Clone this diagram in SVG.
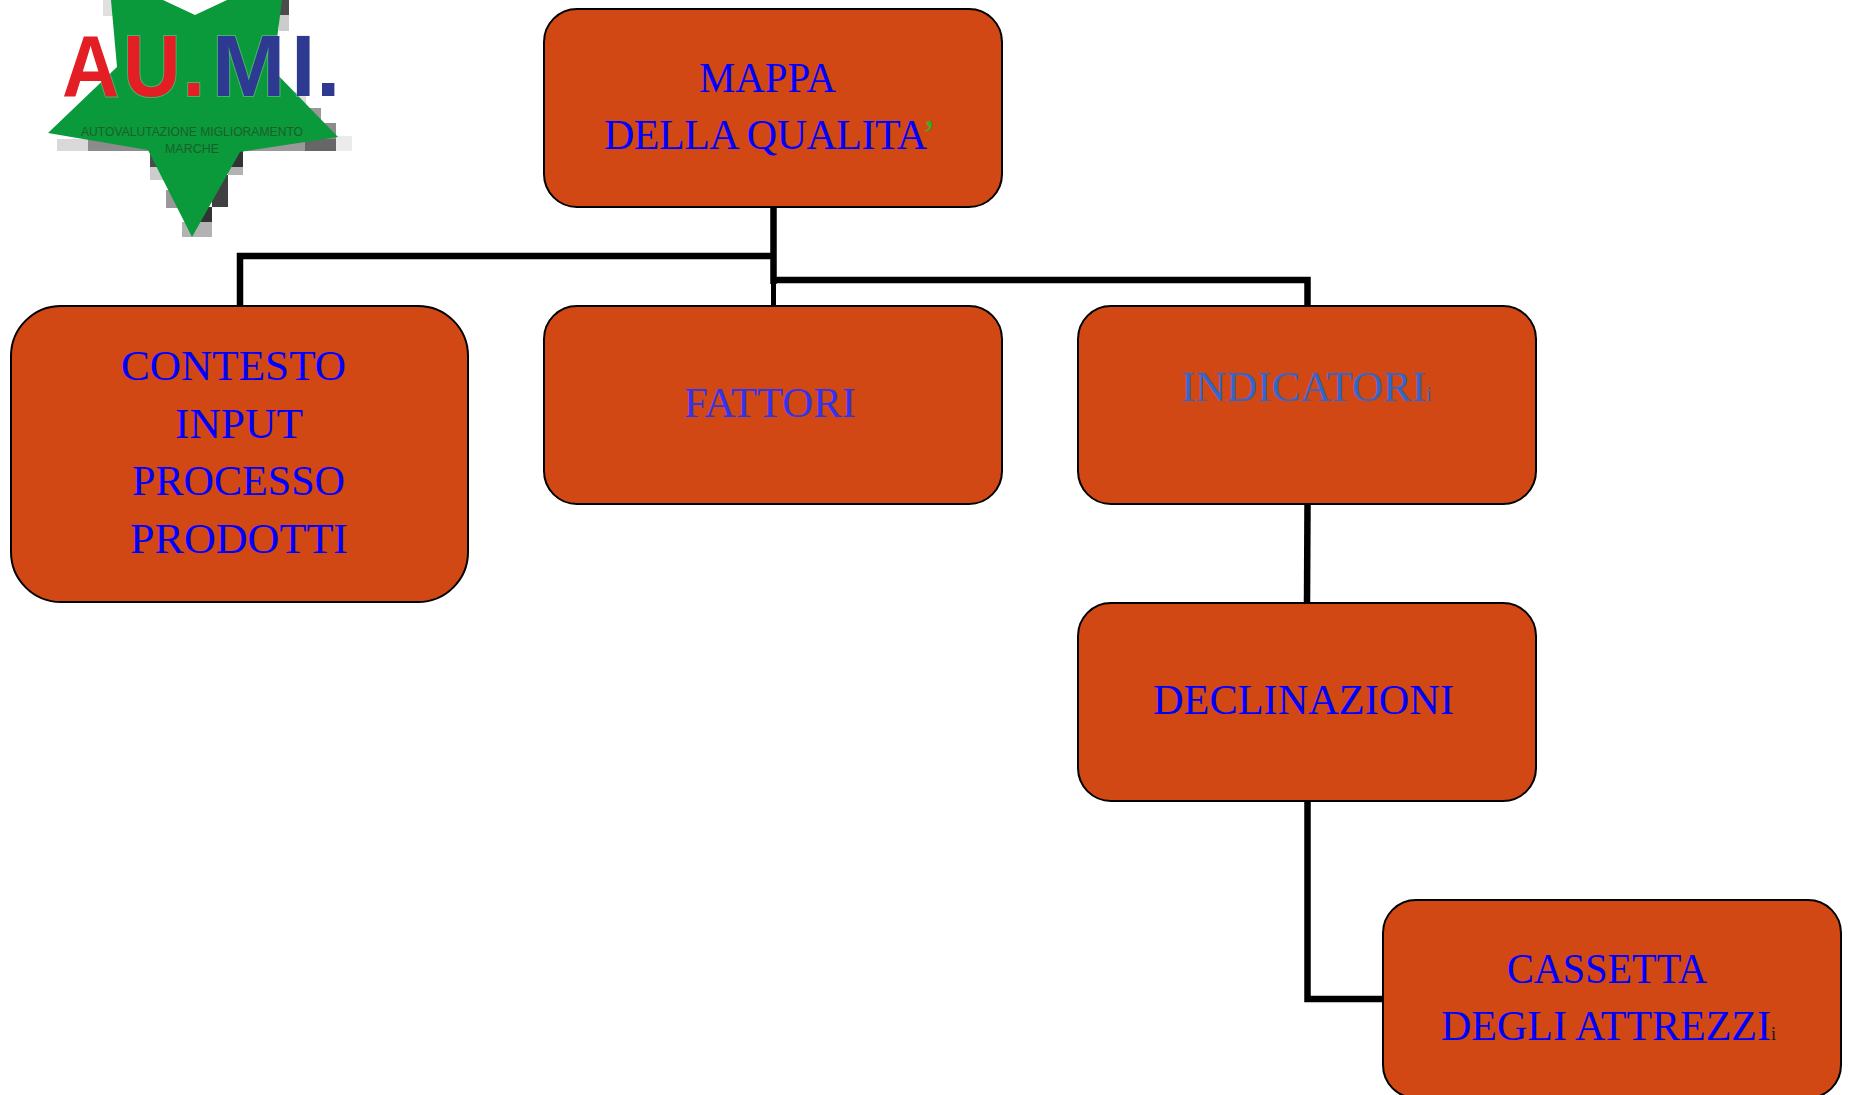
<svg xmlns="http://www.w3.org/2000/svg" width="1849" height="1095" viewBox="0 0 1849 1095">
<style>
.box{fill:#d14815;stroke:#000;stroke-width:2}
.t{font-family:"Liberation Serif","Times New Roman",serif;font-size:42px;fill:#0000ff}
.c{fill:none;stroke:#000;stroke-width:6.500}
.logo{font-family:"Liberation Sans",Arial,sans-serif;font-weight:bold;font-size:88px;stroke:#fff;stroke-opacity:.25;stroke-width:2px;paint-order:stroke}
.sub{font-family:"Liberation Sans",Arial,sans-serif;font-size:12.5px;fill:#1c5e2a}
</style>
<rect width="1849" height="1095" fill="#fff"/>
<g id="logo">
<g fill="#000">
<rect x="103" y="0" width="10" height="16" opacity=".12"/>
<rect x="279" y="0" width="10" height="15" opacity=".7"/>
<rect x="279" y="15" width="10" height="16" opacity=".2"/>
<rect x="290" y="92" width="16" height="16" opacity=".15"/>
<rect x="305" y="108" width="16" height="15" opacity=".4"/>
<rect x="320" y="123" width="16" height="16" opacity=".45"/>
<rect x="57" y="139" width="31" height="12" opacity=".15"/>
<rect x="88" y="139" width="62" height="12" opacity=".45"/>
<rect x="240" y="139" width="65" height="12" opacity=".4"/>
<rect x="305" y="139" width="31" height="12" opacity=".6"/>
<rect x="336" y="136" width="16" height="15" opacity=".08"/>
<rect x="150" y="151" width="10" height="16" opacity=".7"/>
<rect x="150" y="167" width="16" height="13" opacity=".2"/>
<rect x="166" y="190" width="12" height="18" opacity=".4"/>
<rect x="182" y="222" width="30" height="15" opacity=".3"/>
<rect x="228" y="151" width="15" height="16" opacity=".8"/>
<rect x="228" y="167" width="15" height="8" opacity=".3"/>
<rect x="212" y="175" width="16" height="32" opacity=".75"/>
<rect x="197" y="207" width="15" height="15" opacity=".8"/>
</g>
<polygon points="111,0 163,0 195,15 227,0 282,0 273,70 338,137 240,152 192,237 148,150 48,133 117,67" fill="#0a9a3b"/>
<g transform="scale(.9 1)"><text class="logo" x="69 137 203" y="96" fill="#e31e24">AU.</text></g>
<text class="logo" x="212 291 316" y="96" fill="#2e3a92">MI.</text>
<text class="sub" x="81" y="136" textLength="222" lengthAdjust="spacingAndGlyphs">AUTOVALUTAZIONE MIGLIORAMENTO</text>
<text class="sub" x="192" y="153" text-anchor="middle">MARCHE</text>
</g>
<g id="connectors">
<path class="c" d="M773.500 206V284"/>
<path class="c" d="M773.500 256H240V305"/>
<path class="c" d="M773.500 280H1307.500V305"/>
<path class="c" d="M773.500 280V305" style="stroke-width:5"/>
<path class="c" d="M1307.500 504L1307 603"/>
<path class="c" d="M1307.500 801V999H1383"/>
</g>
<g id="mappa">
<rect class="box" x="544" y="9" width="458" height="198" rx="33"/>
<text class="t" x="699" y="92" textLength="137" lengthAdjust="spacingAndGlyphs">MAPPA</text>
<text class="t" x="604" y="149" style="letter-spacing:-.5px">DELLA QUALITA<tspan style="fill:#33b020">’</tspan></text>
</g>
<g id="contesto">
<rect class="box" x="11" y="306" width="457" height="296" rx="50"/>
<text class="t" x="121" y="380" textLength="225" lengthAdjust="spacingAndGlyphs">CONTESTO</text>
<text class="t" x="175" y="438" textLength="128" lengthAdjust="spacingAndGlyphs">INPUT</text>
<text class="t" x="132" y="495" textLength="213" lengthAdjust="spacingAndGlyphs">PROCESSO</text>
<text class="t" x="130" y="553" textLength="218" lengthAdjust="spacingAndGlyphs">PRODOTTI</text>
</g>
<g id="fattori">
<rect class="box" x="544" y="306" width="458" height="198" rx="33"/>
<text class="t" x="684" y="417" textLength="172" lengthAdjust="spacingAndGlyphs" style="fill:#3333ee">FATTORI</text>
</g>
<g id="indicatori">
<rect class="box" x="1078" y="306" width="458" height="198" rx="33"/>
<text class="t" x="1181" y="401" textLength="245" lengthAdjust="spacingAndGlyphs" style="fill:#3366cc">INDICATORI</text>
<text class="t" x="1426" y="401" style="fill:#3366cc;font-size:20px">i</text>
</g>
<g id="declinazioni">
<rect class="box" x="1078" y="603" width="458" height="198" rx="33"/>
<text class="t" x="1153" y="714" textLength="301" lengthAdjust="spacingAndGlyphs">DECLINAZIONI</text>
</g>
<g id="cassetta">
<rect class="box" x="1383" y="900" width="458" height="198" rx="33"/>
<text class="t" x="1507" y="983" textLength="200" lengthAdjust="spacingAndGlyphs">CASSETTA</text>
<text class="t" x="1441" y="1040" textLength="330" lengthAdjust="spacingAndGlyphs">DEGLI ATTREZZI</text>
<text class="t" x="1771" y="1040" style="font-size:18px;fill:#1a1a1a">i</text>
</g>
</svg>
